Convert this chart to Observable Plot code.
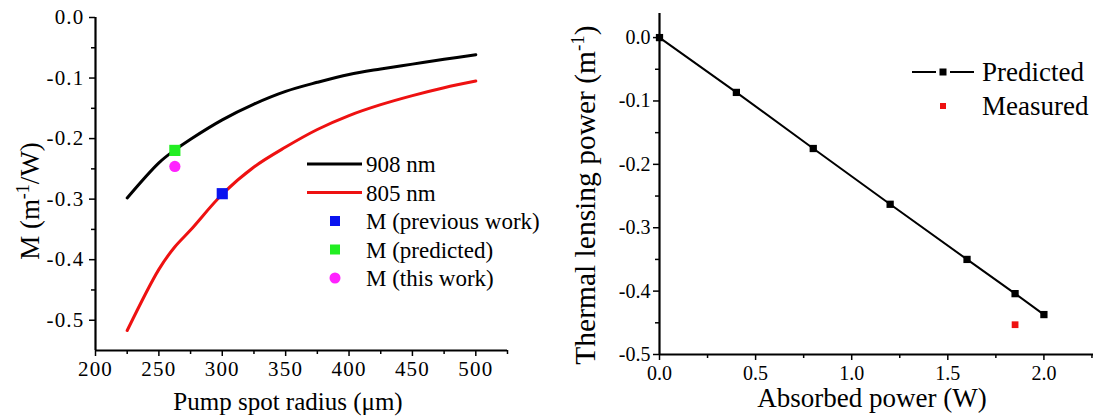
<!DOCTYPE html>
<html>
<head>
<meta charset="utf-8">
<script src="https://cdn.jsdelivr.net/npm/d3@7"></script>
<script src="https://cdn.jsdelivr.net/npm/@observablehq/plot@0.6"></script>
<style>
  html, body { margin: 0; padding: 0; background: #fff; }
  #wrap { position: relative; width: 1093px; height: 417px; overflow: hidden; background: #fff; }
  #wrap text { font-family: "Liberation Serif", "Times New Roman", serif; fill: #000; }
  #left .ticklab text { letter-spacing: 1.2px; }
  #wrap > .panel { position: absolute; top: 0; }
  #overlay { position: absolute; left: 0; top: 0; pointer-events: none; }
</style>
</head>
<body>
<div id="wrap">
  <div class="panel" id="left" style="left:0"></div>
  <div class="panel" id="right" style="left:546px"></div>
</div>
<script>
// ---------- Left panel data ----------
const radius = [225, 250, 262.5, 275, 300, 325, 350, 375, 400, 425, 450, 475, 500];
const m908 = [-0.298, -0.240, -0.219, -0.201, -0.169, -0.143, -0.122, -0.107, -0.094, -0.085, -0.077, -0.069, -0.0615];
const m805 = [-0.517, -0.416, -0.379, -0.351, -0.292, -0.247, -0.214, -0.185, -0.162, -0.144, -0.129, -0.116, -0.105];
const pointLabels = ["M (previous work)", "M (predicted)", "M (this work)"];
const pointX = [300, 262.6, 262.6];
const pointY = [-0.291, -0.2195, -0.246];
const pointColors = ["#0a14f0", "#22ee22", "#ff22ff"];
const pointSymbols = ["square", "square", "circle"];
const seriesNames = ["908 nm", "805 nm"];
const seriesColors = ["#000000", "#ee1111"];
const leftXTicks = [200, 250, 300, 350, 400, 450, 500];
const leftXMinor = [225, 275, 325, 375, 425, 475, 525];
const leftYTicks = [0, -0.1, -0.2, -0.3, -0.4, -0.5];
const leftYMinor = [-0.05, -0.15, -0.25, -0.35, -0.45];

// ---------- Right panel data ----------
const absorbed = [0, 0.4, 0.8, 1.2, 1.6, 1.85, 2.0];
const predicted = [0, -0.0865, -0.175, -0.263, -0.350, -0.404, -0.437];
const measuredX = [1.85];
const measuredY = [-0.453];
const rightLegend = ["Predicted", "Measured"];
const rightXTicks = [0, 0.5, 1.0, 1.5, 2.0];
const rightXMinor = [0.25, 0.75, 1.25, 1.75, 2.25];
const rightYTicks = [0, -0.1, -0.2, -0.3, -0.4, -0.5];
const rightYMinor = [-0.05, -0.15, -0.25, -0.35, -0.45];

const fmt1 = d => (Math.abs(d) < 1e-9 ? 0 : d).toFixed(1);
const font = "Liberation Serif";
const lineData = radius.flatMap((r, i) => [
  {r, m: m908[i], s: seriesNames[0]},
  {r, m: m805[i], s: seriesNames[1]}
]);
const pts = pointLabels.map((k, i) => ({k, x: pointX[i], y: pointY[i], c: pointColors[i], sym: pointSymbols[i]}));

const left = Plot.plot({
  width: 546, height: 417,
  marginLeft: 95, marginRight: 39, marginTop: 17, marginBottom: 67,
  x: {domain: [200, 525]},
  y: {domain: [-0.55, 0]},
  style: {fontFamily: font, fontSize: "21px", color: "#000", background: "transparent", overflow: "visible"},
  marks: [
    Plot.axisY({ticks: leftYTicks, tickFormat: fmt1, tickSize: 6, tickPadding: 5, strokeWidth: 1.5, label: null, fontSize: 21, fontFamily: font, className: "ticklab"}),
    Plot.axisY({ticks: leftYMinor, tickFormat: () => "", tickSize: 4, strokeWidth: 1.5, label: null}),
    Plot.axisX({ticks: leftXTicks, tickFormat: d => String(d), tickSize: 6, tickPadding: 5, strokeWidth: 1.5, label: null, fontSize: 21, fontFamily: font, className: "ticklab"}),
    Plot.axisX({ticks: leftXMinor, tickFormat: () => "", tickSize: 4, strokeWidth: 1.5, label: null}),
    Plot.ruleX([200], {strokeWidth: 2.2}),
    Plot.ruleY([-0.55], {strokeWidth: 2.2}),
    Plot.line(lineData, {x: "r", y: "m", z: "s", stroke: "s", strokeWidth: 3, curve: "catmull-rom"}),
    Plot.dot(pts.filter(d => d.sym === "square"), {x: "x", y: "y", fill: "c", symbol: "square", r: 6.3}),
    Plot.dot(pts.filter(d => d.sym === "circle"), {x: "x", y: "y", fill: "c", symbol: "circle", r: 5.6})
  ],
  color: {domain: seriesNames, range: seriesColors}
});
document.getElementById("left").appendChild(left);

const pred = absorbed.map((a, i) => ({a, p: predicted[i]}));
const meas = measuredX.map((a, i) => ({a, p: measuredY[i]}));
const right = Plot.plot({
  width: 547, height: 417,
  marginLeft: 113, marginRight: 0, marginTop: 13, marginBottom: 63,
  x: {domain: [0, 2.258]},
  y: {domain: [-0.5, 0.038]},
  style: {fontFamily: font, fontSize: "20px", color: "#000", background: "transparent", overflow: "visible"},
  marks: [
    Plot.axisY({ticks: rightYTicks, tickFormat: fmt1, tickSize: 6, tickPadding: 3, strokeWidth: 1.5, label: null, fontSize: 20, fontFamily: font}),
    Plot.axisY({ticks: rightYMinor, tickFormat: () => "", tickSize: 4, strokeWidth: 1.5, label: null}),
    Plot.axisX({ticks: rightXTicks, tickFormat: fmt1, tickSize: 6, tickPadding: 5, strokeWidth: 1.5, label: null, fontSize: 20, fontFamily: font}),
    Plot.axisX({ticks: rightXMinor, tickFormat: () => "", tickSize: 4, strokeWidth: 1.5, label: null}),
    Plot.ruleX([0], {strokeWidth: 2.2}),
    Plot.ruleY([-0.5], {strokeWidth: 2.2}),
    Plot.line(pred, {x: "a", y: "p", stroke: "#000", strokeWidth: 2}),
    Plot.dot(pred, {x: "a", y: "p", symbol: "square", fill: "#000", r: 4.1}),
    Plot.dot(meas, {x: "a", y: "p", symbol: "square", fill: "#ee1111", r: 3.8})
  ]
});
document.getElementById("right").appendChild(right);

// ---------- Overlay: legends and axis titles ----------
const svg = d3.select("#wrap").append("svg")
  .attr("id", "overlay").attr("width", 1093).attr("height", 417);

const lgRow0 = 164, lgDy = 28.5;
const legL = svg.append("g");
seriesNames.forEach((n, i) => {
  const y = lgRow0 + i * lgDy;
  legL.append("line").attr("x1", 307).attr("x2", 362).attr("y1", y).attr("y2", y)
    .attr("stroke", seriesColors[i]).attr("stroke-width", 3);
  legL.append("text").attr("x", 366).attr("y", y).attr("dy", "0.35em").attr("font-size", 23).text(n);
});
pts.forEach((p, i) => {
  const y = lgRow0 + (i + 2) * lgDy;
  if (p.sym === "circle") legL.append("circle").attr("cx", 335).attr("cy", y).attr("r", 5.5).attr("fill", p.c);
  else legL.append("rect").attr("x", 330).attr("y", y - 5).attr("width", 10).attr("height", 10).attr("fill", p.c);
  legL.append("text").attr("x", 366).attr("y", y).attr("dy", "0.35em").attr("font-size", 23).text(p.k);
});

const legR = svg.append("g");
legR.append("line").attr("x1", 912).attr("x2", 936).attr("y1", 72).attr("y2", 72).attr("stroke", "#000").attr("stroke-width", 2);
legR.append("line").attr("x1", 950).attr("x2", 974).attr("y1", 72).attr("y2", 72).attr("stroke", "#000").attr("stroke-width", 2);
legR.append("rect").attr("x", 939.5).attr("y", 68.5).attr("width", 7).attr("height", 7).attr("fill", "#000");
legR.append("rect").attr("x", 940).attr("y", 103).attr("width", 6).attr("height", 6).attr("fill", "#ee1111");
rightLegend.forEach((n, i) => {
  legR.append("text").attr("x", 982).attr("y", 72 + i * 34).attr("dy", "0.35em").attr("font-size", 27).text(n);
});

svg.append("text").attr("x", 288).attr("y", 410).attr("text-anchor", "middle").attr("font-size", 25).text("Pump spot radius (μm)");
svg.append("text").attr("x", 872).attr("y", 407).attr("text-anchor", "middle").attr("font-size", 27).text("Absorbed power (W)");

const yl = svg.append("text").attr("transform", "translate(39,201) rotate(-90)").attr("text-anchor", "middle").attr("font-size", 27);
yl.append("tspan").text("M (m");
yl.append("tspan").attr("font-size", 18).attr("dy", -10).text("-1");
yl.append("tspan").attr("dy", 10).text("/W)");

const yr = svg.append("text").attr("transform", "translate(595,195) rotate(-90)").attr("text-anchor", "middle").attr("font-size", 29.5);
yr.append("tspan").text("Thermal lensing power (m");
yr.append("tspan").attr("font-size", 19).attr("dy", -11).text("-1");
yr.append("tspan").attr("dy", 11).text(")");
</script>
</body>
</html>
